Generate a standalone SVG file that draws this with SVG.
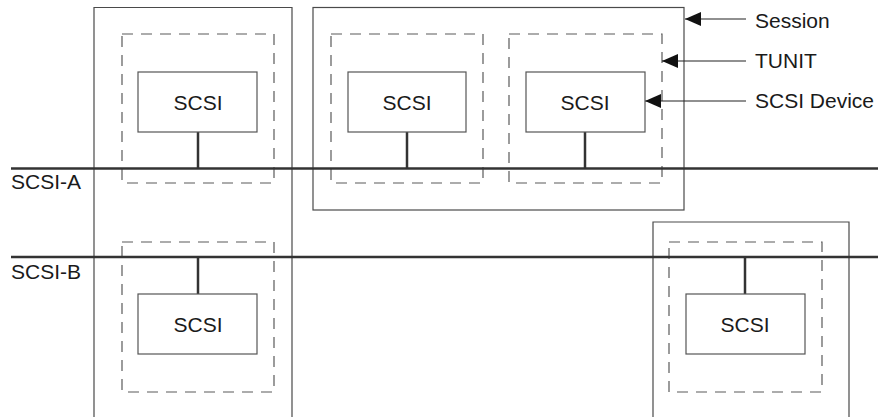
<svg xmlns="http://www.w3.org/2000/svg" width="882" height="417" viewBox="0 0 882 417">
  <style>
    .session { fill: none; stroke: #4a4a4a; stroke-width: 1.2; }
    .tunit { fill: none; stroke: #5a5a5a; stroke-width: 1.2; stroke-dasharray: 11 8; }
    .dev { fill: #ffffff; stroke: #555555; stroke-width: 1.2; }
    .bus { stroke: #333333; stroke-width: 2.5; fill: none; }
    .stem { stroke: #333333; stroke-width: 2.5; fill: none; }
    .lead { stroke: #222222; stroke-width: 1.2; fill: none; }
    text { font-family: "Liberation Sans", Arial, sans-serif; font-size: 21px; fill: #1a1a1a; }
    .c { text-anchor: middle; }
  </style>
  <defs>
    <marker id="head" viewBox="0 0 16 14" refX="16" refY="7" markerWidth="16" markerHeight="14" markerUnits="userSpaceOnUse" orient="auto-start-reverse">
      <path d="M0,0 L16,7 L0,14 Z" fill="#111111"/>
    </marker>
  </defs>

  <!-- sessions -->
  <g id="session-left">
    <path class="session" d="M94,420 V7.5 H292 V420"/>
  </g>
  <g id="session-mid">
    <rect class="session" x="313" y="7.5" width="371" height="202.5"/>
  </g>
  <g id="session-right">
    <path class="session" d="M653,420 V222 H849 V420"/>
  </g>

  <!-- target units -->
  <g id="tunit-a1"><rect class="tunit" x="122" y="34" width="152" height="149"/></g>
  <g id="tunit-a2"><rect class="tunit" x="331" y="34" width="152" height="149"/></g>
  <g id="tunit-a3"><rect class="tunit" x="509" y="34" width="153" height="149"/></g>
  <g id="tunit-b1"><rect class="tunit" x="122" y="242" width="152" height="150"/></g>
  <g id="tunit-b2"><rect class="tunit" x="669" y="242" width="153" height="150"/></g>

  <!-- connectors: buses, stems, label leads -->
  <g id="connectors">
    <line class="bus" x1="11" y1="168.5" x2="878" y2="168.5"/>
    <line class="bus" x1="11" y1="257" x2="878" y2="257"/>
    <line class="stem" x1="198" y1="132" x2="198" y2="168.5"/>
    <line class="stem" x1="407" y1="132" x2="407" y2="168.5"/>
    <line class="stem" x1="585" y1="132" x2="585" y2="168.5"/>
    <line class="stem" x1="198" y1="257" x2="198" y2="294"/>
    <line class="stem" x1="745" y1="257" x2="745" y2="294"/>
    <line class="lead" x1="746" y1="19" x2="685" y2="19" marker-end="url(#head)"/>
    <line class="lead" x1="746" y1="61" x2="662" y2="61" marker-end="url(#head)"/>
    <line class="lead" x1="746" y1="101" x2="645" y2="101" marker-end="url(#head)"/>
  </g>

  <!-- SCSI devices -->
  <g id="dev-a1">
    <rect class="dev" x="138" y="72" width="119" height="60"/>
    <text class="c" x="198" y="110">SCSI</text>
  </g>
  <g id="dev-a2">
    <rect class="dev" x="348" y="72" width="118" height="60"/>
    <text class="c" x="407" y="110">SCSI</text>
  </g>
  <g id="dev-a3">
    <rect class="dev" x="526" y="72" width="119" height="60"/>
    <text class="c" x="585" y="110">SCSI</text>
  </g>
  <g id="dev-b1">
    <rect class="dev" x="138" y="294" width="119" height="60"/>
    <text class="c" x="198" y="332">SCSI</text>
  </g>
  <g id="dev-b2">
    <rect class="dev" x="686" y="294" width="119" height="60"/>
    <text class="c" x="745" y="332">SCSI</text>
  </g>

  <!-- labels -->
  <g id="labels">
    <text x="11" y="189">SCSI-A</text>
    <text x="11" y="279">SCSI-B</text>
    <text x="755" y="28">Session</text>
    <text x="755" y="68">TUNIT</text>
    <text x="755" y="108">SCSI Device</text>
  </g>
</svg>
